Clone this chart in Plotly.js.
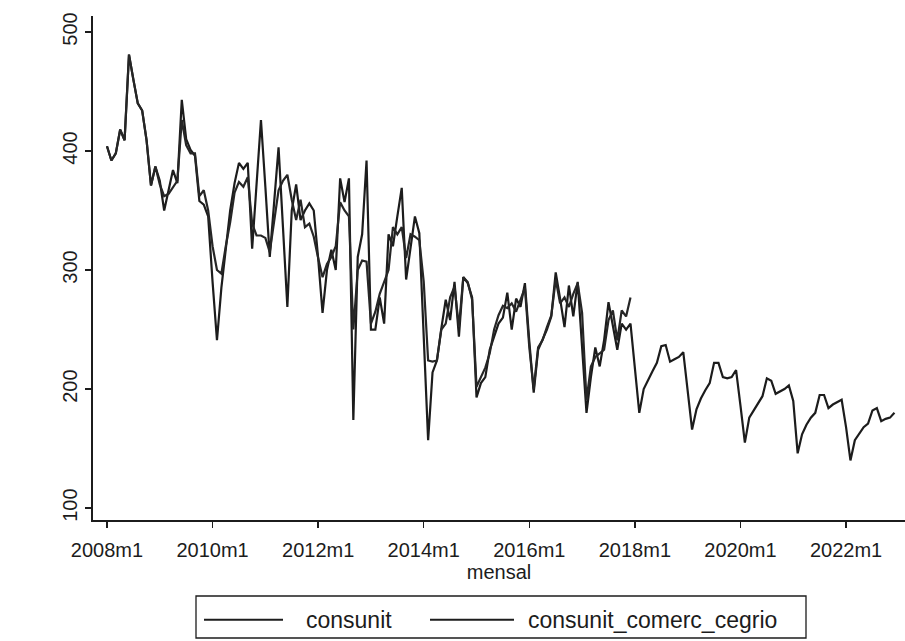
<!DOCTYPE html>
<html>
<head>
<meta charset="utf-8">
<script src="https://cdn.plot.ly/plotly-3.0.1.min.js"></script>
<style>
  html, body { margin: 0; padding: 0; background: #ffffff; }
  #chart { width: 905px; height: 641px; }
</style>
</head>
<body>
<div id="chart"></div>
<script>
// Monthly categories 2008m1 .. 2022m12
const startYear = 2008;
const endYear = 2022;
const months = [];
for (let y = startYear; y <= endYear; y++) {
  for (let m = 1; m <= 12; m++) months.push(y + 'm' + m);
}

// consunit (full period)
const consunit = [
  404,392,398,418,409,481,460,440,434,409,371,387,
  375,350,367,384,373,443,410,401,396,358,355,345,
  290,241,285,315,350,373,390,385,390,318,372,426,
  370,311,357,403,336,269,350,372,342,350,356,350,
  310,264,300,317,300,377,357,377,174,311,330,392,
  250,250,277,255,330,320,345,369,292,320,345,331,
  240,157,214,224,251,275,258,290,244,294,289,277,
  193,205,210,233,244,255,260,281,250,276,269,289,
  240,197,233,241,250,261,298,276,252,287,261,290,
  235,180,210,235,219,241,273,252,233,255,250,255,
  215,180,200,208,215,222,236,237,223,225,227,231,
  198,166,183,192,199,205,222,222,210,209,210,216,
  186,155,176,182,189,194,209,207,196,198,200,203,
  190,146,162,170,176,180,195,195,184,187,189,191,
  168,140,157,163,168,171,182,184,173,175,176,180
];

// consunit_comerc_cegrio (ends 2017m12)
const consunitComercCegrio = [
  404,392,398,418,409,481,460,440,434,409,371,387,
  372,362,364,370,375,426,405,398,398,362,367,350,
  320,300,297,320,340,365,374,370,378,339,329,329,
  327,315,340,367,375,380,359,342,359,336,339,328,
  310,294,305,311,320,357,350,345,250,300,308,307,
  255,265,280,290,300,336,330,336,310,330,328,325,
  290,224,223,224,250,255,277,286,252,294,290,275,
  202,210,218,230,250,262,270,268,272,265,275,285,
  235,200,235,241,252,262,292,272,277,269,280,289,
  264,191,219,227,230,233,258,266,241,266,261,277
];

const xTickLabels = ['2008m1','2010m1','2012m1','2014m1','2016m1','2018m1','2020m1','2022m1'];
const yTickValues = [100, 200, 300, 400, 500];
const seriesNames = ['consunit', 'consunit_comerc_cegrio'];

const ink = '#1c1c1c';
const fontFam = 'Liberation Sans, Arial, sans-serif';

const traces = [
  {
    x: months.slice(0, consunit.length),
    y: consunit,
    name: seriesNames[0],
    type: 'scatter',
    mode: 'lines',
    line: { color: ink, width: 2.2 },
    showlegend: false
  },
  {
    x: months.slice(0, consunitComercCegrio.length),
    y: consunitComercCegrio,
    name: seriesNames[1],
    type: 'scatter',
    mode: 'lines',
    line: { color: '#262626', width: 2.2 },
    showlegend: false
  }
];

// legend drawn as a Stata-style box with long line samples
const legY = -0.198;
const layout = {
  width: 905,
  height: 641,
  margin: { l: 93, r: 0, t: 16, b: 121 },
  paper_bgcolor: '#ffffff',
  plot_bgcolor: '#ffffff',
  font: { family: fontFam, size: 20, color: ink },
  showlegend: false,
  xaxis: {
    type: 'category',
    categoryorder: 'array',
    categoryarray: months,
    range: [-3.18, 181.4],
    tickmode: 'array',
    tickvals: xTickLabels,
    ticktext: xTickLabels,
    ticks: 'outside',
    ticklen: 6,
    tickwidth: 1.3,
    tickcolor: ink,
    ticklabelstandoff: 5,
    showline: true,
    linecolor: ink,
    linewidth: 1.6,
    showgrid: false,
    zeroline: false,
    tickfont: { size: 20, color: ink },
    title: { text: 'mensal', font: { size: 20, color: ink }, standoff: 0 },
    automargin: false
  },
  yaxis: {
    range: [90, 513.4],
    tickmode: 'array',
    tickvals: yTickValues,
    ticktext: yTickValues.map(String),
    tickangle: -90,
    ticks: 'outside',
    ticklen: 6,
    tickwidth: 1.3,
    tickcolor: ink,
    showline: true,
    linecolor: ink,
    linewidth: 1.6,
    showgrid: false,
    zeroline: false,
    tickfont: { size: 20, color: ink },
    automargin: false
  },
  shapes: [
    { type: 'rect', xref: 'paper', yref: 'paper',
      x0: (196 - 93) / 812, x1: (806 - 93) / 812,
      y0: (520 - 638) / 504, y1: (520 - 596) / 504,
      line: { color: ink, width: 1.3 }, fillcolor: 'rgba(0,0,0,0)' },
    { type: 'line', xref: 'paper', yref: 'paper',
      x0: (204 - 93) / 812, x1: (283 - 93) / 812, y0: legY, y1: legY,
      line: { color: ink, width: 2 } },
    { type: 'line', xref: 'paper', yref: 'paper',
      x0: (430 - 93) / 812, x1: (514 - 93) / 812, y0: legY, y1: legY,
      line: { color: ink, width: 2 } }
  ],
  annotations: [
    { xref: 'paper', yref: 'paper', x: (304 - 93) / 812, y: legY,
      xanchor: 'left', yanchor: 'middle', showarrow: false,
      text: seriesNames[0], font: { size: 23, color: ink } },
    { xref: 'paper', yref: 'paper', x: (526 - 93) / 812, y: legY,
      xanchor: 'left', yanchor: 'middle', showarrow: false,
      text: seriesNames[1], font: { size: 23, color: ink } }
  ]
};

Plotly.newPlot('chart', traces, layout, { staticPlot: true, displayModeBar: false });
</script>
</body>
</html>
